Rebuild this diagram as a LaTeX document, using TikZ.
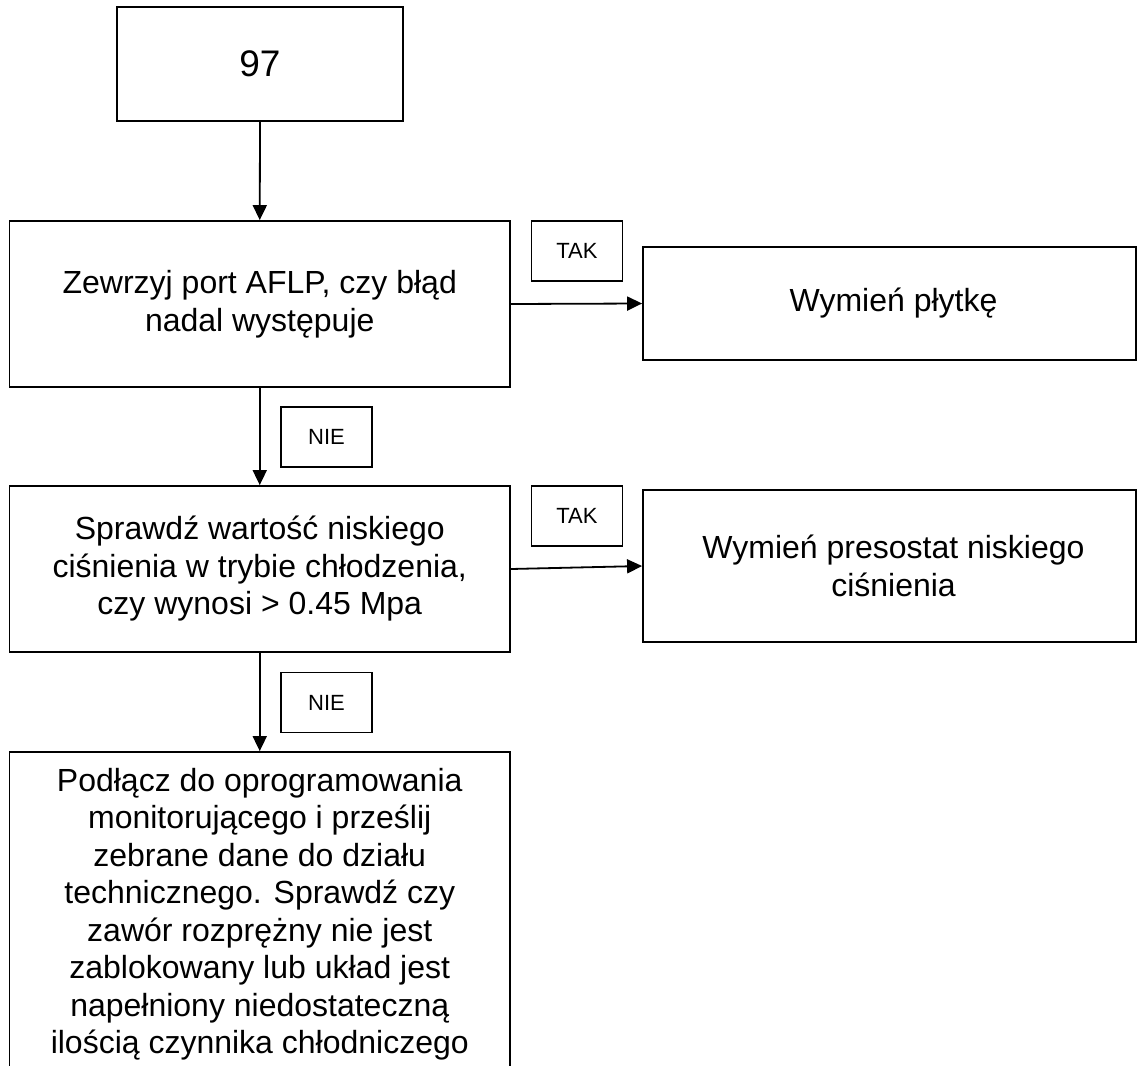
\documentclass[tikz,border=0pt]{standalone}
\usepackage{fontspec}
\setmainfont{Liberation Sans}
\usetikzlibrary{arrows.meta}
\tikzset{
  box/.style={draw, line width=1.8pt, align=center, inner sep=0pt,
    font=\fontsize{32}{37.5}\selectfont},
  tag/.style={draw, line width=1.5pt, align=center, inner sep=0pt,
    minimum width=91pt, minimum height=60pt, font=\fontsize{22}{26}\selectfont},
  arr/.style={line width=1.8pt, -{Triangle[width=14pt,length=15pt]}},
}
\begin{document}
\begin{tikzpicture}[x=1pt,y=-1pt]
\useasboundingbox (0,0) rectangle (1137,1065);
\clip (0,0) rectangle (1137,1065);
\node[box, minimum width=286pt, minimum height=114pt, font=\fontsize{37}{44}\selectfont] (b1) at (260,64) {97};
\node[box, minimum width=500.5pt, minimum height=166pt] (b2) at (259.75,304) {Zewrzyj port AFLP, czy błąd\\nadal występuje};
\node[box, minimum width=493pt, minimum height=113pt,
  label={[font=\fontsize{32}{37.5}\selectfont, xshift=4pt]center:Wymień płytkę}] (r1) at (889.5,303.5) {};
\node[box, minimum width=500.5pt, minimum height=166pt] (b3) at (259.75,569) {Sprawdź wartość niskiego\\ciśnienia w trybie chłodzenia,\\czy wynosi > 0.45 Mpa};
\node[box, minimum width=493pt, minimum height=152pt,
  label={[font=\fontsize{32}{37.5}\selectfont, align=center, xshift=4pt]center:Wymień presostat niskiego\\ciśnienia}] (r2) at (889.5,566) {};
\node[box, minimum width=500.5pt, minimum height=324pt] (b4) at (259.75,914) {Podłącz do oprogramowania\\monitorującego i prześlij\\zebrane dane do działu\\technicznego. Sprawdź czy\\zawór rozprężny nie jest\\zablokowany lub układ jest\\napełniony niedostateczną\\ilością czynnika chłodniczego};
\node[tag] (t1) at (577,251) {TAK};
\node[tag] (n1) at (326.5,437) {NIE};
\node[tag] (t2) at (577,516) {TAK};
\node[tag] (n2) at (326.5,702.7) {NIE};
\draw[arr] (b1.south) -- (b2.north);
\draw[arr] (b2.east) -- (r1.west);
\draw[arr] (b2.south) -- (b3.north);
\draw[arr] (b3.east) -- (r2.west);
\draw[arr] (b3.south) -- (b4.north);
\end{tikzpicture}
\end{document}
